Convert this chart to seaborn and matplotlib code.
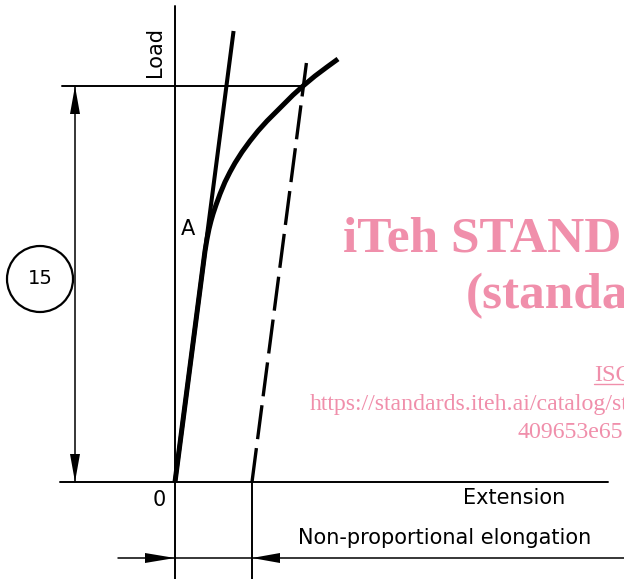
import numpy as np
import pandas as pd
import matplotlib
matplotlib.use("Agg")
import matplotlib.pyplot as plt
from matplotlib.patches import Circle, Polygon
import seaborn as sns

# ---------------- data (extension, load) in drawing units ----------------
curve_ext = [0, 30, 32, 34, 36, 38, 41, 45, 50, 55, 60, 67, 75, 83, 92, 100,
             108, 118, 128, 140, 152, 163]
curve_load = [0, 231, 243, 253, 261, 268, 277, 288, 300, 310, 319, 330, 341,
              351, 361, 369, 377, 387, 396, 406, 415, 423]
elastic_slope = 7.7          # load per unit extension (proportional part)
elastic_top_load = 451
offset = 77                   # non-proportional elongation
offset_top_load = 419
load_level = 396              # specified load (horizontal line)
circle_label = "15"
axis_labels = ["Load", "Extension", "Non-proportional elongation"]
point_label = "A"
origin_label = "0"
watermark = ["iTeh STAND", "(standa", "ISO",
             "https://standards.iteh.ai/catalog/st", "409653e65"]

# ---------------- figure ----------------
sns.set_style("white")
plt.rcParams["font.family"] = ["DejaVu Sans"]
plt.rcParams["text.color"] = "black"
fig = plt.figure(figsize=(6.24, 5.79), dpi=100)
ax = fig.add_axes([0, 0, 1, 1])

K = "black"
thin = 1.4
dim = 1.1

# watermark (behind)
pink = "#F08FAB"
wm = dict(color=pink, family="Liberation Serif", ha="left", va="baseline",
          clip_on=True, zorder=0)
ax.text(168, 230, watermark[0], fontsize=37, fontweight="bold", **wm)
ax.text(291, 174, watermark[1], fontsize=37, fontweight="bold", **wm)
ax.text(419, 101, watermark[2], fontsize=17.5, **wm)
ax.plot([419, 449], [98, 98], color=pink, lw=1.0, zorder=0)
ax.text(135, 72, watermark[3], fontsize=17.2, **wm)
ax.text(343, 44, watermark[4], fontsize=17.2, **wm)

# axes and construction lines
ax.plot([0, 0], [-97, 476], color=K, lw=thin)
ax.plot([-115, 433], [0, 0], color=K, lw=thin)
ax.plot([-113, offset + load_level / elastic_slope + 2], [load_level, load_level],
        color=K, lw=thin)
ax.plot([offset, offset], [-97, 0], color=K, lw=thin)

# vertical dimension line with arrows
dx = -100
ax.plot([dx, dx], [0, load_level], color=K, lw=dim)
def head(tip, direction, length=28, half=5):
    tx, ty = tip
    ux, uy = direction
    bx, by = tx - ux * length, ty - uy * length
    px, py = -uy * half, ux * half
    ax.add_patch(Polygon([(tx, ty), (bx + px, by + py), (bx - px, by - py)],
                         closed=True, color=K, lw=0))
head((dx, load_level), (0, 1))
head((dx, 0), (0, -1))

# horizontal dimension (non-proportional elongation)
dy = -76
ax.plot([-57, 449], [dy, dy], color=K, lw=dim)
head((0, dy), (1, 0), length=30)
head((offset, dy), (-1, 0), length=28)

# elastic line, offset line, load-extension curve
el = pd.DataFrame({"ext": [0, elastic_top_load / elastic_slope],
                   "load": [0, elastic_top_load]})
sns.lineplot(data=el, x="ext", y="load", ax=ax, color=K, lw=2.9, sort=False,
             solid_capstyle="butt")
off = pd.DataFrame({"ext": [offset, offset + offset_top_load / elastic_slope],
                    "load": [0, offset_top_load]})
sns.lineplot(data=off, x="ext", y="load", ax=ax, color=K, lw=2.4, sort=False,
             linestyle=(0, (10.26, 2.7)), dash_capstyle="butt")
cv = pd.DataFrame({"ext": curve_ext, "load": curve_load})
sns.lineplot(data=cv, x="ext", y="load", ax=ax, color=K, lw=3.6, sort=False,
             solid_capstyle="butt", solid_joinstyle="round")

ax.set_xlim(-175, 449)
ax.set_ylim(-97, 482)
ax.axis("off")

# circle label
ax.add_patch(Circle((-135, 203), 33, fill=False, ec=K, lw=1.6))
ax.text(-135, 203, circle_label, fontsize=14, ha="center", va="center", color=K)

# texts
ax.text(-20, 430, axis_labels[0], fontsize=15, rotation=90, ha="center",
        va="center", color=K)
ax.text(339, -16, axis_labels[1], fontsize=15, ha="center", va="center", color=K)
ax.text(270, -56, axis_labels[2], fontsize=15, ha="center", va="center", color=K)
ax.text(13, 253, point_label, fontsize=15, ha="center", va="center", color=K)
ax.text(-16, -18, origin_label, fontsize=15, ha="center", va="center", color=K)

fig.savefig("out.png", dpi=100)
